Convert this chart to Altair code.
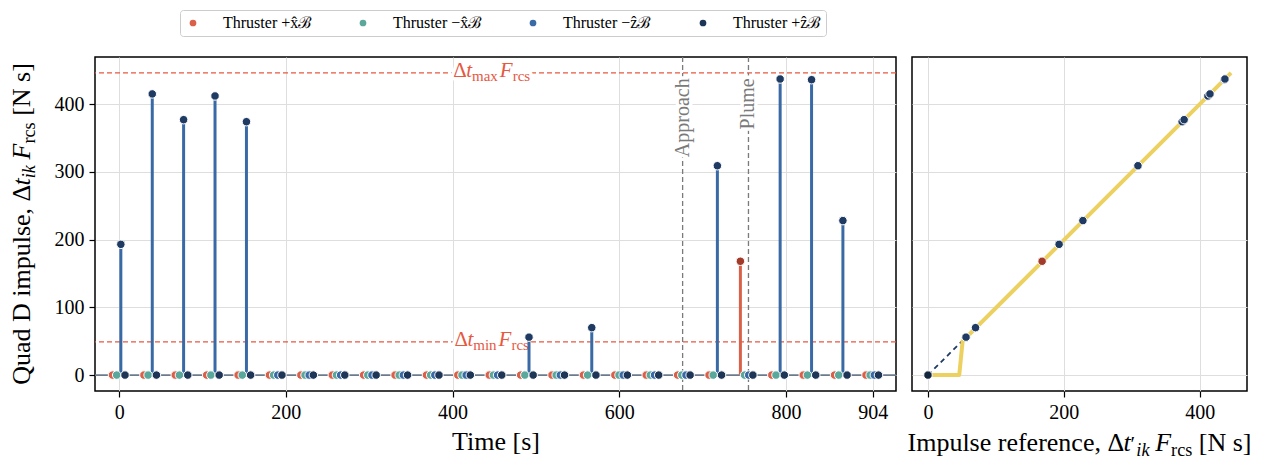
import altair as alt
import pandas as pd

# ------------------------------------------------------------------ data
step_times = [0.0, 37.7, 75.3, 113.0, 150.7, 188.3, 226.0, 263.7, 301.3, 339.0, 376.7, 414.3,
              452.0, 489.7, 527.3, 565.0, 602.7, 640.3, 678.0, 715.7, 753.3, 791.0, 828.7, 866.3, 904.0]
thruster_names = ["Thruster +x̂ℬ", "Thruster −x̂ℬ", "Thruster −ẑℬ", "Thruster +ẑℬ"]
impulse_plus_x = [0, 0, 0, 0, 0, 0, 0, 0, 0, 0, 0, 0, 0, 0, 0, 0, 0, 0, 0, 0, 168, 0, 0, 0, 0]
impulse_minus_x = [0, 0, 0, 0, 0, 0, 0, 0, 0, 0, 0, 0, 0, 0, 0, 0, 0, 0, 0, 0, 0, 0, 0, 0, 0]
impulse_minus_z = [193, 415, 377, 412, 374, 0, 0, 0, 0, 0, 0, 0, 0, 56, 0, 70, 0, 0, 0, 309, 0, 437, 436, 228, 0]
impulse_plus_z = [0, 0, 0, 0, 0, 0, 0, 0, 0, 0, 0, 0, 0, 0, 0, 0, 0, 0, 0, 0, 0, 0, 0, 0, 0]

ref_impulse = [0, 56, 70, 168, 193, 228, 309, 374, 377, 412, 415, 436, 437]
applied_impulse = [0, 56, 70, 168, 193, 228, 309, 374, 377, 412, 415, 436, 437]
ref_thruster = [3, 2, 2, 0, 2, 2, 2, 2, 2, 2, 2, 2, 2]
sat_ref = [0, 46, 51, 446]
sat_out = [0, 0, 50, 446]

limit_values = [446, 49]
event_times = [676, 755]
event_labels = ["Approach", "Plume"]

# ------------------------------------------------------------------ style
THR_COLORS = ["#db6049", "#5aa89b", "#3a6aa5", "#1d3557"]
TOP_COLORS = ["#a33b2b", "#3f7f74", "#1f3b63", "#14263d"]
DODGE = [-8, -3, 2, 7]
FONT = "Liberation Serif"
W_L, W_R, H = 801, 335, 334
XS = alt.Scale(domain=[-29, 932], nice=False, zero=False)
YS = alt.Scale(domain=[-23.5, 469.5], nice=False, zero=False)
RS = alt.Scale(domain=[-23.5, 469.5], nice=False, zero=False)

series = [impulse_plus_x, impulse_minus_x, impulse_minus_z, impulse_plus_z]
zero_rows, fire_rows = [], []
for j, vals in enumerate(series):
    for k, t in enumerate(step_times):
        if vals[k] == 0:
            zero_rows.append({"t": t + DODGE[j], "v": 0, "thruster": thruster_names[j]})
        else:
            fire_rows.append({"t": t + DODGE[j], "v": vals[k], "v0": 0,
                              "stem_color": THR_COLORS[j], "top_color": TOP_COLORS[j]})
zero_df = pd.DataFrame(zero_rows)
fire_df = pd.DataFrame(fire_rows)

X_L = alt.X("t:Q", scale=XS, axis=alt.Axis(values=[0, 200, 400, 600, 800, 904], title="Time [s]",
                                            titlePadding=6, labelPadding=5))
Y_L = alt.Y("v:Q", scale=YS, axis=alt.Axis(values=[0, 100, 200, 300, 400], title=None, labelPadding=5))

# ------------------------------------------------------------------ text helpers
REG = {' ': 250, ',': 250, '[': 333, ']': 333, 'A': 722, 'D': 722, 'I': 333, 'N': 722, 'Q': 722,
       'a': 444, 'c': 444, 'd': 500, 'e': 444, 'f': 333, 'h': 500, 'i': 278, 'l': 278, 'm': 778,
       'n': 500, 'o': 500, 'p': 500, 'r': 333, 's': 389, 't': 278, 'u': 500, 'x': 500,
       'Δ': 612, '′': 275}
ITA = {'t': 278, 'F': 611, 'i': 278, 'k': 444}


def tw(s, size, italic):
    tab = ITA if italic else REG
    return sum(tab.get(c, 500) for c in s) * size / 1000.0


def layout(pieces):
    cur, out = 0.0, []
    for p in pieces:
        if p[0] == "gap":
            cur += p[1]
            continue
        text, size, italic, shift = p[:4]
        out.append((text, size, italic, cur, shift))
        cur += tw(text, size, italic)
    return out, cur


def math_pieces(main, sub, prime=False):
    """Δt_ik F_rcs style pieces"""
    ps = [("Δ", main, False, 0), ("t", main, True, 0)]
    if prime:
        ps.append(("′", main * 0.8, False, 0))
    ps += [(sub, main * 0.7, True, main * 0.2), ("gap", main * 0.22),
           ("F", main, True, 0), ("rcs", main * 0.7, False, main * 0.2)]
    return ps


one = pd.DataFrame({"d": [0]})


def px_text(pieces, ax, ay, rotated=False, color="black"):
    items, total = layout(pieces)
    layers = []
    for text, size, italic, along, shift in items:
        kw = dict(text=text, font=FONT, fontSize=size, color=color, align="left", baseline="alphabetic")
        if italic:
            kw["fontStyle"] = "italic"
        if rotated:
            kw["angle"] = 270
            enc = dict(x=alt.value(ax + shift), y=alt.value(ay + total / 2 - along))
        else:
            enc = dict(x=alt.value(ax - total / 2 + along), y=alt.value(ay + shift))
        layers.append(alt.Chart(one).mark_text(**kw).encode(**enc))
    return layers


def data_text(pieces, df, base_dy, color):
    items, total = layout(pieces)
    halo, fill = [], []
    for text, size, italic, along, shift in items:
        kw = dict(text=text, font=FONT, fontSize=size, align="left", baseline="alphabetic",
                  dx=-total / 2 + along, dy=base_dy + shift)
        if italic:
            kw["fontStyle"] = "italic"
        halo.append(alt.Chart(df).mark_text(color="white", stroke="white", strokeWidth=7,
                                            strokeJoin="round", **kw).encode(x=X_L, y=Y_L))
        fill.append(alt.Chart(df).mark_text(color=color, **kw).encode(x=X_L, y=Y_L))
    return halo + fill


UNITS = [("gap", 26 * 0.25), ("[N s]", 26, False, 0)]

# ------------------------------------------------------------------ left panel
base_rule = alt.Chart(pd.DataFrame({"v": [0]})).mark_rule(color="#6b7b8c", strokeWidth=1.6).encode(y=Y_L)
lim_rules = alt.Chart(pd.DataFrame({"v": limit_values})).mark_rule(
    color="#e6583f", strokeWidth=1.4, strokeDash=[5, 3]).encode(y=Y_L)
evt_df = pd.DataFrame({"t": event_times, "label": event_labels, "v": [438, 438]})
evt_rules = alt.Chart(evt_df).mark_rule(color="#7a7a7a", strokeWidth=1.3, strokeDash=[5, 3]).encode(x=X_L)
evt_halo = alt.Chart(evt_df).mark_text(angle=270, align="right", baseline="middle", font=FONT, fontSize=20,
                                       color="white", stroke="white", strokeWidth=7, strokeJoin="round"
                                       ).encode(x=X_L, y=Y_L, text="label:N")
evt_text = alt.Chart(evt_df).mark_text(angle=270, align="right", baseline="middle", font=FONT, fontSize=20,
                                       color="#7a7a7a").encode(x=X_L, y=Y_L, text="label:N")

stems = alt.Chart(fire_df).mark_rule(strokeWidth=3).encode(
    x=X_L, y=Y_L, y2="v0:Q", color=alt.Color("stem_color:N", scale=None))
zero_dots = alt.Chart(zero_df).mark_circle(size=72, opacity=1, stroke="white", strokeWidth=1).encode(
    x=X_L, y=Y_L,
    color=alt.Color("thruster:N", scale=alt.Scale(domain=thruster_names, range=THR_COLORS), sort=thruster_names,
                    title=None,
                    legend=alt.Legend(orient="none", legendX=85, legendY=-47, direction="horizontal", columns=4,
                                      gridAlign="all",
                                      labelFont=FONT, labelFontSize=16, labelColor="black",
                                      symbolType="circle", symbolSize=45, symbolStrokeWidth=0,
                                      labelOffset=22, columnPadding=43, padding=5,
                                      strokeColor="#cccccc", fillColor="white", cornerRadius=3)))
top_dots = alt.Chart(fire_df).mark_circle(size=72, opacity=1, stroke="white", strokeWidth=1).encode(
    x=X_L, y=Y_L, color=alt.Color("top_color:N", scale=None))

ann_max = data_text([("Δ", 21, False, 0), ("t", 21, True, 0), ("max", 15, False, 4), ("gap", 2),
                     ("F", 21, True, 0), ("rcs", 15, False, 4)],
                    pd.DataFrame({"t": [447], "v": [limit_values[0]]}), 4.5, "#e6583f")
ann_min = data_text([("Δ", 21, False, 0), ("t", 21, True, 0), ("min", 15, False, 4), ("gap", 2),
                     ("F", 21, True, 0), ("rcs", 15, False, 4)],
                    pd.DataFrame({"t": [447], "v": [limit_values[1]]}), 4.5, "#e6583f")

ytitle = px_text([("Quad D impulse, ", 26, False, 0)] + math_pieces(26, "ik") + UNITS,
                 -65, H / 2, rotated=True)

left = alt.layer(base_rule, lim_rules, evt_rules, *ann_max, *ann_min, evt_halo, evt_text,
                 stems, zero_dots, top_dots, *ytitle).properties(width=W_L, height=H)

# ------------------------------------------------------------------ right panel
X_R = alt.X("r:Q", scale=RS, axis=alt.Axis(values=[0, 200, 400], title=None, labelPadding=5))
Y_R = alt.Y("a:Q", scale=YS, axis=alt.Axis(values=[0, 100, 200, 300, 400], labels=False, ticks=False,
                                            title=None))
pts_df = pd.DataFrame({"r": ref_impulse, "a": applied_impulse,
                       "c": [TOP_COLORS[i] for i in ref_thruster]})
sat_df = pd.DataFrame({"r": sat_ref, "a": sat_out})
dash_line = alt.Chart(pts_df).mark_line(color="#1f3b63", strokeWidth=1.8, strokeDash=[5, 4]).encode(
    x=X_R, y=Y_R, order="r:Q")
sat_line = alt.Chart(sat_df).mark_line(color="#ecd060", strokeWidth=4, strokeJoin="round").encode(
    x=X_R, y=Y_R, order="r:Q")
pts = alt.Chart(pts_df).mark_circle(size=72, opacity=1, stroke="white", strokeWidth=1).encode(
    x=X_R, y=Y_R, color=alt.Color("c:N", scale=None))
xtitle_r = px_text([("Impulse reference, ", 26, False, 0)] + math_pieces(26, "ik", prime=True) + UNITS,
                   W_R / 2, 394)

right = alt.layer(dash_line, sat_line, pts, *xtitle_r).properties(width=W_R, height=H)

chart = alt.hconcat(left, right, spacing=16, bounds="flush").resolve_scale(
    color="independent").properties(
    padding={"left": 0, "top": 0, "right": 0, "bottom": 0}
).configure_view(stroke="black", strokeWidth=1.5).configure_axis(
    labelFont=FONT, labelFontSize=20, labelColor="black", tickColor="black", tickSize=6, tickWidth=1.2,
    domain=False, gridColor="#dedede", gridWidth=1, titleFont=FONT, titleFontSize=26,
    titleFontWeight="normal", titleColor="black")

chart.save("out.html", embed_options={"renderer": "svg", "actions": False})
